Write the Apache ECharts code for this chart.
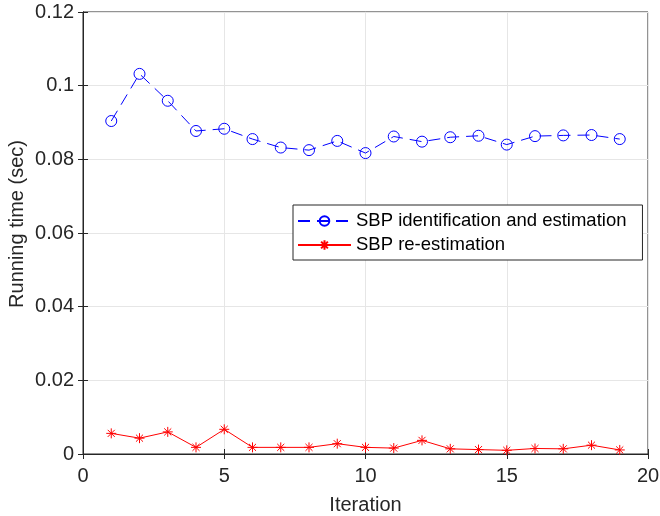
<!DOCTYPE html>
<html>
<head>
<meta charset="utf-8">
<script src="https://cdn.jsdelivr.net/npm/echarts@6/dist/echarts.min.js"></script>
<style>html,body{margin:0;padding:0;background:#fff}#c{width:660px;height:516px}</style>
</head>
<body>
<div id="c"></div>
<script>
// Running time per iteration for the two SBP stages
const iterations = [1,2,3,4,5,6,7,8,9,10,11,12,13,14,15,16,17,18,19];
const identEst = [0.0904,0.1032,0.0959,0.0877,0.0883,0.0855,0.0832,0.0825,0.0850,0.0817,0.0862,0.0848,0.0860,0.0864,0.0840,0.0863,0.0865,0.0866,0.0855];
const reEst = [0.0056,0.0043,0.0060,0.0018,0.0067,0.0018,0.0018,0.0018,0.0028,0.0018,0.0016,0.0037,0.0014,0.0012,0.0010,0.0015,0.0014,0.0024,0.0011];
const xTicks = [0,5,10,15,20];
const yTicks = [0,0.02,0.04,0.06,0.08,0.1,0.12];

const ink = '#262626';
const font = 'Liberation Sans, Arial, Helvetica, sans-serif';
const asterisk = 'path://M0,-10L0,10M-10,0L10,0M-7.07,-7.07L7.07,7.07M-7.07,7.07L7.07,-7.07';

const chart = echarts.init(document.getElementById('c'), null, {renderer: 'canvas'});
const tickAxis = {
  axisLine: {show: true, lineStyle: {color: ink, width: 1}},
  axisTick: {show: true, inside: true, length: 5, lineStyle: {color: ink}},
  splitLine: {show: false},
  axisLabel: {show: false}
};
chart.setOption({
  animation: false,
  grid: {left: 83, right: 12, top: 12, bottom: 62, show: true, borderColor: ink, borderWidth: 1,
    containLabel: false, outerBoundsMode: 'none'},
  graphic: [{
    type: 'text', x: 17, y: 224, rotation: Math.PI / 2,
    style: {text: 'Running time (sec)', fontFamily: font, fontSize: 20, fill: ink,
      align: 'center', verticalAlign: 'middle'}
  }],
  legend: {
    orient: 'vertical', left: 293, top: 205,
    backgroundColor: '#fff', borderColor: ink, borderWidth: 1, borderRadius: 0,
    padding: [5, 16, 4, 4], itemWidth: 53, itemHeight: 12, itemGap: 2,
    textStyle: {fontFamily: font, fontSize: 18.5, lineHeight: 22, color: '#000'},
    data: ['SBP identification and estimation', 'SBP re-estimation']
  },
  xAxis: [{
    type: 'value', min: 0, max: 20, interval: 5,
    name: 'Iteration', nameLocation: 'middle', nameGap: 41,
    nameTextStyle: {fontFamily: font, fontSize: 20, color: ink},
    axisLine: {show: true, lineStyle: {color: ink}},
    axisTick: {show: true, inside: true, length: 5, lineStyle: {color: ink}},
    axisLabel: {fontFamily: font, fontSize: 20, color: ink, margin: 12,
      formatter: v => xTicks.includes(v) ? String(v) : ''},
    splitLine: {show: true, lineStyle: {color: '#e6e6e6', width: 1}}
  }, Object.assign({type: 'value', min: 0, max: 20, interval: 5, position: 'top'}, tickAxis)],
  yAxis: [{
    type: 'value', min: 0, max: 0.12, interval: 0.02,
    axisLine: {show: true, lineStyle: {color: ink}},
    axisTick: {show: true, inside: true, length: 5, lineStyle: {color: ink}},
    axisLabel: {fontFamily: font, fontSize: 20, color: ink, margin: 9,
      formatter: v => {
        const t = yTicks.find(y => Math.abs(y - v) < 1e-9);
        return t === undefined ? '' : String(t);
      }},
    splitLine: {show: true, lineStyle: {color: '#e6e6e6', width: 1}}
  }, Object.assign({type: 'value', min: 0, max: 0.12, interval: 0.02, position: 'right'}, tickAxis)],
  series: [{
    name: 'SBP identification and estimation', type: 'line',
    data: iterations.map((x, i) => [x, identEst[i]]),
    symbol: 'circle', symbolSize: 11,
    lineStyle: {color: '#0000ff', width: 1, type: [12, 7]},
    itemStyle: {color: 'rgba(0,0,0,0)', borderColor: '#0000ff', borderWidth: 1},
    emphasis: {disabled: true}
  }, {
    name: 'SBP re-estimation', type: 'line',
    data: iterations.map((x, i) => [x, reEst[i]]),
    symbol: asterisk, symbolSize: 10,
    lineStyle: {color: '#ff0000', width: 1},
    itemStyle: {color: '#ff0000', borderColor: '#ff0000', borderWidth: 1},
    emphasis: {disabled: true}
  }]
});
</script>
</body>
</html>
